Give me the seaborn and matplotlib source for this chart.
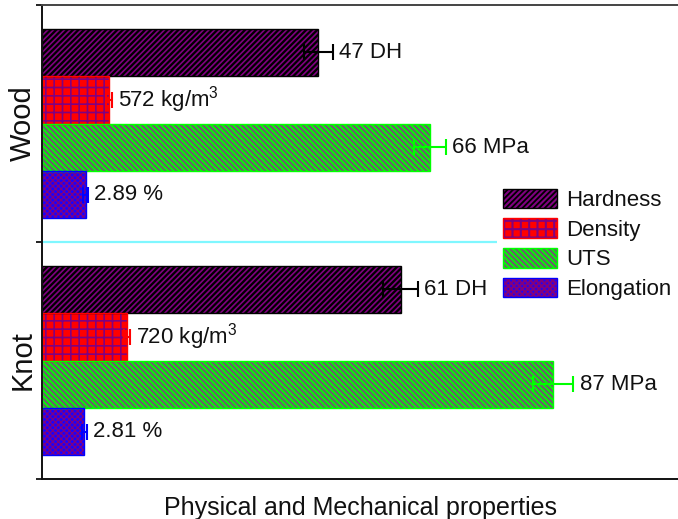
import matplotlib
matplotlib.use("Agg")
import matplotlib.pyplot as plt
from matplotlib.patches import Patch
import pandas as pd
import seaborn as sns

# Measured properties of clear wood and knot samples
groups = ["Wood", "Knot"]
properties = ["Hardness", "Density", "UTS", "Elongation"]
units = ["DH", r"kg/m$^{\mathregular{3}}$", "MPa", "%"]

hardness = [47, 61]
density = [572, 720]
uts = [66, 87]
elongation = [2.89, 2.81]

hardness_sd = [2.5, 3.0]
density_sd = [25, 25]
uts_sd = [2.7, 3.4]
elongation_sd = [0.15, 0.15]

# factors that bring the four properties onto one common axis
display_scale = [1.0, 1 / 50, 1.0, 2.56]

values = [hardness, density, uts, elongation]
errors = [hardness_sd, density_sd, uts_sd, elongation_sd]

face_colors = ["#000000", "#ff0000", "#00ff00", "#1a00ff"]
edge_colors = ["#000000", "#ff0000", "#00ff00", "#0000ff"]
err_colors = ["#000000", "#ff0000", "#00ff00", "#0000ff"]
hatches = ["//////", "++", "\\\\\\\\\\\\", "xxxxxx"]
hatch_colors = ["#800080", "#800080", "#6e5a6e", "#800080"]
hatch_widths = [1.2, 1.2, 1.5, 0.9]

sns.set_theme(style="ticks")
plt.rcParams["font.family"] = ["Liberation Sans", "DejaVu Sans"]
plt.rcParams["hatch.linewidth"] = 1.5
plt.rcParams["mathtext.fontset"] = "custom"
plt.rcParams["mathtext.rm"] = "Liberation Sans"


def style_hatch(patch, i):
    patch.set_hatch(hatches[i])
    patch.set_edgecolor(hatch_colors[i])
    patch.set_linewidth(0)
    if hasattr(patch, "set_hatch_linewidth"):
        patch.set_hatch_linewidth(hatch_widths[i])


rows = []
for prop, vals, scale in zip(properties, values, display_scale):
    for grp, v in zip(groups, vals):
        rows.append({"group": grp, "property": prop, "shown": v * scale})
df = pd.DataFrame(rows)

fig = plt.figure(figsize=(6.78, 5.19), dpi=100)
ax = fig.add_axes([0.062, 0.077, 0.938, 0.9133])

sns.barplot(data=df, y="group", x="shown", hue="property",
            order=groups, hue_order=properties, orient="h",
            palette=dict(zip(properties, face_colors)), saturation=1,
            errorbar=None, width=0.8, legend=False, ax=ax)

series_bars = list(ax.containers)

# hatch each series, outline it, add its error bar and value label
for i, cont in enumerate(series_bars):
    ys, ws, hs = [], [], []
    for bar in cont:
        style_hatch(bar, i)
        ys.append(bar.get_y() + bar.get_height() / 2)
        ws.append(bar.get_width())
        hs.append(bar.get_height())
    ax.barh(ys, ws, height=hs[0], fill=False, edgecolor=edge_colors[i],
            linewidth=1.0, zorder=2.5)
    for yc, v, sd in zip(ys, values[i], errors[i]):
        x = v * display_scale[i]
        e = sd * display_scale[i]
        ax.errorbar(x, yc, xerr=e, fmt="none", ecolor=err_colors[i],
                    elinewidth=1.5, capsize=5.5, capthick=1.5, zorder=3)
        ax.annotate(f"{v:g} {units[i]}", xy=(x + e, yc), xytext=(4.5, 0),
                    textcoords="offset points", ha="left", va="center",
                    fontsize=16, color="#111111")

ax.axhline(0.5, color="#7ff7ff", lw=1.6, zorder=1)

ax.set_xlim(0, 108.2)
ax.set_ylim(1.5, -0.5)
ax.set_xticks([])
ax.set_yticks([-0.5, 0.5, 1.5])
ax.set_yticklabels([])
ax.set_yticks([0, 1], minor=True)
ax.set_yticklabels(groups, minor=True, rotation=90, va="center", fontsize=21)
ax.tick_params(axis="y", which="major", length=4, width=1.3, direction="out",
               left=True, color="#111111")
ax.tick_params(axis="y", which="minor", length=0, pad=4, left=True,
               labelcolor="#111111")
ax.set_ylabel("")
ax.set_xlabel("Physical and Mechanical properties", fontsize=18, labelpad=12,
              color="#111111")

ax.spines["right"].set_visible(False)
for side, col in [("left", "#111111"), ("top", "#444444"), ("bottom", "#111111")]:
    ax.spines[side].set_color(col)
    ax.spines[side].set_linewidth(1.4)

handles = []
for i, (fc, ec) in enumerate(zip(face_colors, edge_colors)):
    fill = Patch(facecolor=fc)
    style_hatch(fill, i)
    handles.append((fill, Patch(facecolor="none", edgecolor=ec, linewidth=1.0)))

leg = ax.legend(handles, properties, loc="upper left",
                bbox_to_anchor=(0.715, 0.627), borderaxespad=0,
                borderpad=0.3, handlelength=2.43, handleheight=1.0,
                labelspacing=0.32, handletextpad=0.4, fontsize=16,
                frameon=True, fancybox=False, facecolor="white",
                edgecolor="none", framealpha=1)
for t in leg.get_texts():
    t.set_color("#111111")

fig.savefig("out.png", dpi=100)
